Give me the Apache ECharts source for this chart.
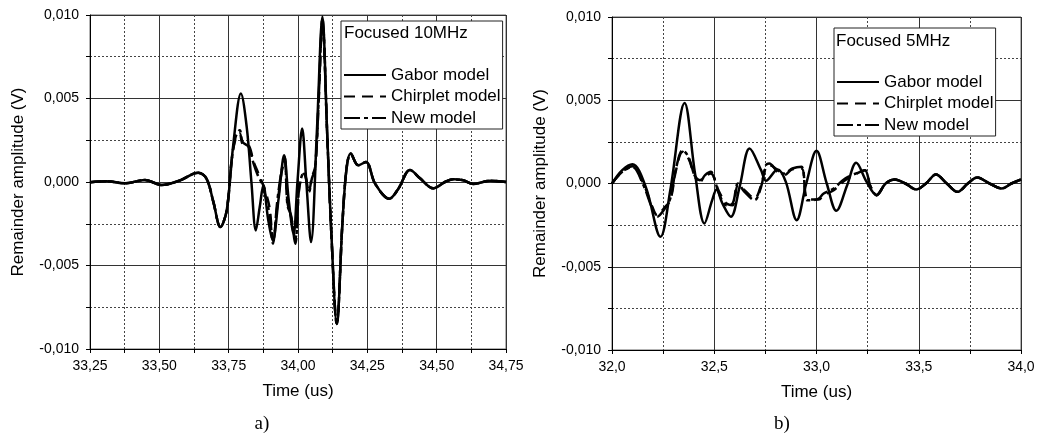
<!DOCTYPE html>
<html>
<head>
<meta charset="utf-8">
<script src="https://cdn.jsdelivr.net/npm/echarts@6/dist/echarts.min.js"></script>
<style>
html,body{margin:0;padding:0;background:#fff;}
#c{width:1048px;height:434px;}
</style>
</head>
<body>
<div id="c"></div>
<script>
// ---------- DATA ----------
const seriesNames = ['Gabor model', 'Chirplet model', 'New model'];
const panelTitles = ['Focused 10MHz', 'Focused 5MHz'];
const panelLetters = ['a)', 'b)'];

// Panel a) : Focused 10MHz
const tA_gabor = [33.25,33.31,33.376,33.448,33.509,33.575,33.640,33.670,33.695,33.720,33.743,33.767,33.794,33.815,33.832,33.848,33.862,33.875,33.892,33.909,33.930,33.950,33.966,33.984,33.998,34.015,34.030,34.047,34.068,34.088,34.105,34.120,34.140,34.160,34.175,34.190,34.217,34.245,34.278,34.329,34.362,34.404,34.440,34.488,34.530,34.560,34.596,34.632,34.692,34.750];
const vA_gabor = [-0.00002,0.00004,-0.00008,0.00012,-0.00018,0.0001,0.00056,0.0002,-0.0012,-0.0027,-0.0017,0.0023,0.0053,0.0033,0.0000,-0.0029,-0.0015,-0.0002,-0.0022,-0.0035,-0.0010,0.0016,-0.0010,-0.0031,0.0000,0.0032,0.0000,-0.0036,0.0030,0.0099,0.0030,-0.0030,-0.0085,-0.0025,0.0008,0.0017,0.0010,0.0012,-0.0001,-0.0010,-0.0004,0.00072,0.00022,-0.00038,0.0,0.00016,0.0001,-0.00012,0.00008,0.0];

const tA_models = [33.25,33.31,33.376,33.448,33.509,33.575,33.640,33.670,33.695,33.720,33.743,33.760,33.775,33.790,33.800,33.822,33.840,33.855,33.870,33.885,33.898,33.910,33.925,33.940,33.952,33.962,33.975,33.990,34.005,34.022,34.040,34.050,34.062,34.075,34.088,34.105,34.120,34.140,34.160,34.175,34.190,34.217,34.245,34.278,34.329,34.362,34.404,34.440,34.488,34.530,34.560,34.596,34.632,34.692,34.750];
const vA_chirp = [-0.00002,0.00004,-0.00008,0.00012,-0.00018,0.0001,0.00056,0.0002,-0.0012,-0.0027,-0.0017,0.0012,0.0026,0.0029,0.0023,0.0022,0.0012,0.0006,0.0000,-0.0007,-0.0016,-0.0035,-0.0015,0.0005,0.0013,-0.0012,-0.0021,-0.0034,-0.0003,0.0005,-0.0005,0.0003,0.0009,0.0050,0.0096,0.0030,-0.0030,-0.0085,-0.0025,0.0008,0.0017,0.0010,0.0012,-0.0001,-0.0010,-0.0004,0.00072,0.00022,-0.00038,0.0,0.00016,0.0001,-0.00012,0.00008,0.0];
const vA_new = [-0.00002,0.00004,-0.00008,0.00012,-0.00018,0.0001,0.00056,0.0002,-0.0012,-0.0027,-0.0017,0.0012,0.0027,0.0031,0.0024,0.0021,0.0011,0.0004,-0.0001,-0.0010,-0.0020,-0.0037,-0.0012,0.0006,0.0015,-0.0014,-0.0020,-0.0037,-0.0002,0.0006,-0.0006,0.0002,0.0008,0.0052,0.0098,0.0030,-0.0030,-0.0085,-0.0025,0.0008,0.0017,0.0010,0.0012,-0.0001,-0.0010,-0.0004,0.00072,0.00022,-0.00038,0.0,0.00016,0.0001,-0.00012,0.00008,0.0];

// Panel b) : Focused 5MHz
const tB_gabor = [32.0,32.05,32.100,32.165,32.237,32.285,32.355,32.406,32.452,32.490,32.511,32.540,32.581,32.624,32.673,32.729,32.753,32.810,32.850,32.903,32.950,33.000,33.050,33.097,33.150,33.194,33.245,33.294,33.338,33.382,33.435,33.487,33.535,33.584,33.637,33.689,33.740,33.786,33.846,33.906,33.953,34.0];
const vB_gabor = [0.0,0.0008,0.00116,-0.0002,-0.0032,-0.0004,0.00484,0.0006,-0.0024,-0.0010,-0.00036,-0.0012,-0.0020,-0.0002,0.0021,0.0008,0.00016,0.00084,0.0001,-0.0022,0.0,0.00196,0.0,-0.00164,-0.0001,0.00124,0.0001,-0.0007,0.0,0.00024,0.0,-0.00036,0.0,0.00054,0.0,-0.0005,0.0,0.00036,0.0,-0.0003,0.0,0.00024];

const tB_models = [32.0,32.05,32.100,32.150,32.197,32.221,32.253,32.285,32.313,32.345,32.374,32.406,32.430,32.455,32.484,32.503,32.520,32.560,32.590,32.616,32.648,32.697,32.729,32.753,32.769,32.810,32.842,32.882,32.927,32.952,32.980,33.011,33.035,33.084,33.140,33.213,33.237,33.265,33.294,33.338,33.382,33.435,33.487,33.535,33.584,33.637,33.689,33.740,33.786,33.846,33.906,33.953,34.0];
const vB_chirp = [0.0,0.0007,0.00104,0.0001,-0.0014,-0.0019,-0.0015,-0.0010,0.0008,0.0019,0.0015,0.00044,0.0002,0.00044,0.0006,0.00024,-0.0004,-0.0012,-0.0013,-0.0001,-0.0004,-0.0009,-0.0001,0.0010,0.0011,0.0008,0.0005,0.00086,0.0009,-0.0009,-0.00096,-0.00096,-0.0007,-0.0004,0.0002,0.0007,0.0008,-0.0002,-0.0007,0.0,0.00024,0.0,-0.00036,0.0,0.00054,0.0,-0.0005,0.0,0.00036,0.0,-0.0003,0.0,0.00024];
const vB_new = [0.0,0.0007,0.00100,0.0000,-0.0015,-0.0020,-0.0016,-0.0009,0.0009,0.0020,0.0016,0.00040,0.0001,0.00050,0.0007,0.00020,-0.0005,-0.0013,-0.0012,0.0000,-0.0005,-0.0010,-0.0002,0.0011,0.0012,0.0007,0.0006,0.00090,0.0010,-0.0010,-0.00100,-0.00090,-0.0006,-0.0003,0.0003,0.0007,0.0008,-0.0002,-0.0007,0.0,0.00024,0.0,-0.00036,0.0,0.00054,0.0,-0.0005,0.0,0.00036,0.0,-0.0003,0.0,0.00024];

// ---------- CHART ----------
const zip = (t, v) => t.map((x, i) => [x, v[i]]);
const FONT = '"Liberation Sans", Arial, sans-serif';
const chart = echarts.init(document.getElementById('c'), null, {renderer: 'canvas'});

function xAxisDef(gridIndex, min, max, interval, dec) {
  return {
    type: 'value', gridIndex, min, max, interval,
    name: 'Time (us)', nameLocation: 'middle', nameGap: 34,
    nameTextStyle: {fontSize: 17, color: '#000', fontFamily: FONT},
    axisLine: {onZero: false, lineStyle: {color: '#000', width: 1}},
    axisTick: {show: true, length: 4, lineStyle: {color: '#000'}},
    minorTick: {show: true, splitNumber: 2, length: 4, lineStyle: {color: '#000'}},
    axisLabel: {fontSize: 14, color: '#000', fontFamily: FONT, margin: 10,
      formatter: v => v.toFixed(dec).replace('.', ',')},
    splitLine: {show: true, lineStyle: {color: '#333', width: 1, type: 'solid'}},
    minorSplitLine: {show: true, lineStyle: {color: '#444', width: 1, type: [2, 2]}}
  };
}
function yAxisDef(gridIndex) {
  return {
    type: 'value', gridIndex, min: -0.01, max: 0.01, interval: 0.005,
    name: 'Remainder amplitude (V)', nameLocation: 'middle', nameGap: 63,
    nameTextStyle: {fontSize: 17, color: '#000', fontFamily: FONT},
    axisLine: {show: true, lineStyle: {color: '#000', width: 1}},
    axisTick: {show: true, length: 4, lineStyle: {color: '#000'}},
    minorTick: {show: true, splitNumber: 2, length: 4, lineStyle: {color: '#000'}},
    axisLabel: {fontSize: 14, color: '#000', fontFamily: FONT, margin: 11,
      formatter: v => v.toFixed(3).replace('.', ',')},
    splitLine: {show: true, lineStyle: {color: '#333', width: 1, type: 'solid'}},
    minorSplitLine: {show: true, lineStyle: {color: '#444', width: 1, type: [2, 2]}}
  };
}
const styles = [
  {type: 'solid', width: 2.5},
  {type: [11, 7], width: 2.5},
  {type: [16, 4, 4, 4], width: 2.5}
];
function lineSeries(name, idx, data, styleIdx) {
  return {
    type: 'line', name, xAxisIndex: idx, yAxisIndex: idx, data,
    symbol: 'none', smooth: 0.35, animation: false,
    itemStyle: {color: '#000'},
    lineStyle: Object.assign({color: '#000'}, styles[styleIdx]),
    z: 3 - styleIdx
  };
}
function legendDef(left, top) {
  return {
    left, top, orient: 'vertical', padding: [45, 2, 2, 2],
    itemWidth: 42, itemHeight: 12, itemGap: 3.5,
    backgroundColor: '#fff', borderColor: '#222', borderWidth: 1,
    selectedMode: false,
    itemStyle: {color: 'rgba(0,0,0,0)', borderColor: 'rgba(0,0,0,0)', borderWidth: 0, opacity: 0},
    textStyle: {fontSize: 17, color: '#000', fontFamily: FONT, lineHeight: 18},
    data: seriesNames
  };
}
function textEl(x, y, text, font, align) {
  return {type: 'text', x, y, z: 100,
    style: {text, font, fill: '#000', textAlign: align, align: align,
      textVerticalAlign: 'middle', verticalAlign: 'middle'}};
}

const option = {
  backgroundColor: '#fff',
  animation: false,
  grid: [
    {left: 90, top: 15, width: 416, height: 334, show: true, borderColor: '#666', borderWidth: 1, containLabel: false},
    {left: 612, top: 17, width: 409, height: 333, show: true, borderColor: '#666', borderWidth: 1, containLabel: false}
  ],
  xAxis: [xAxisDef(0, 33.25, 34.75, 0.25, 2), xAxisDef(1, 32, 34, 0.5, 1)],
  yAxis: [yAxisDef(0), yAxisDef(1)],
  legend: [legendDef(341, 21), legendDef(834, 28)],
  series: [
    lineSeries(seriesNames[0], 0, zip(tA_gabor, vA_gabor), 0),
    lineSeries(seriesNames[1], 0, zip(tA_models, vA_chirp), 1),
    lineSeries(seriesNames[2], 0, zip(tA_models, vA_new), 2),
    lineSeries(seriesNames[0], 1, zip(tB_gabor, vB_gabor), 0),
    lineSeries(seriesNames[1], 1, zip(tB_models, vB_chirp), 1),
    lineSeries(seriesNames[2], 1, zip(tB_models, vB_new), 2)
  ],
  graphic: [
    textEl(344, 33, panelTitles[0], '17px ' + FONT, 'left'),
    textEl(836, 41, panelTitles[1], '17px ' + FONT, 'left'),
    textEl(262, 424, panelLetters[0], '19px "Liberation Serif", "Times New Roman", serif', 'center'),
    textEl(782, 424, panelLetters[1], '19px "Liberation Serif", "Times New Roman", serif', 'center')
  ]
};
chart.setOption(option);
</script>
</body>
</html>
